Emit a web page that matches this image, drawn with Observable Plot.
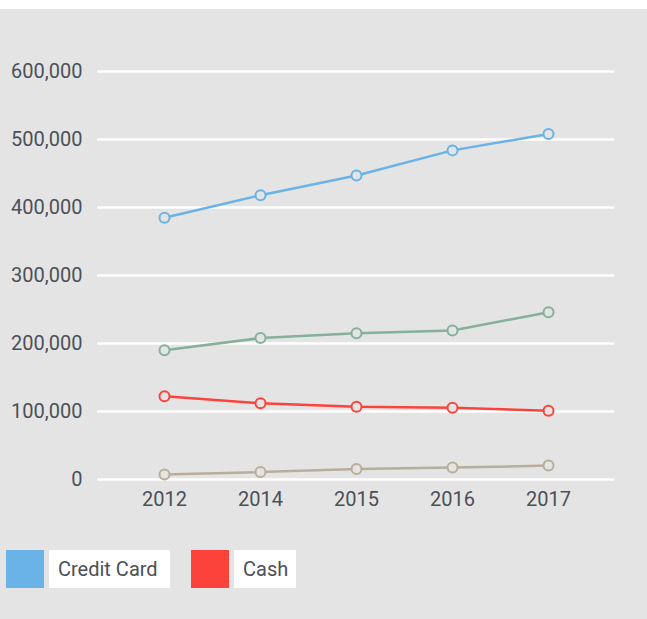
<!DOCTYPE html>
<html>
<head>
<meta charset="utf-8">
<script src="https://cdn.jsdelivr.net/npm/d3@7"></script>
<script src="https://cdn.jsdelivr.net/npm/@observablehq/plot@0.6"></script>
<style>
  html, body { margin: 0; padding: 0; background: #ffffff; }
  #wrap { position: absolute; top: 9px; left: 0; width: 647px; height: 610px; background: #e4e4e4; font-family: Roboto, sans-serif; }
  #chart svg { display: block; background: transparent; }
  #legend { position: absolute; top: 541px; left: 6px; display: flex; align-items: center; font-size: 20px; color: #4b5057; }
  .sw { width: 38px; height: 38px; }
  .lb { height: 38px; line-height: 38px; background: #fff; padding-left: 9px; box-sizing: border-box; margin-left: 5px; }
</style>
</head>
<body>
<div id="wrap">
  <div id="chart"></div>
  <div id="legend"></div>
</div>
<script>
const years = ["2012", "2014", "2015", "2016", "2017"];
const creditCard = [385000, 418000, 447000, 484000, 508000];
const debitCard = [190000, 208000, 215000, 219000, 246000];
const cash = [122500, 112000, 107000, 105500, 101000];
const other = [7500, 11000, 15500, 17500, 20500];
const seriesNames = ["Credit Card", "Debit Card", "Cash", "Other"];
const seriesColors = ["#69b3e7", "#85b19a", "#fc433b", "#b8ae9a"];
const yTicks = [0, 100000, 200000, 300000, 400000, 500000, 600000];
const legendNames = ["Credit Card", "Cash"];
const legendColors = ["#69b3e7", "#fc433b"];
const legendWidths = [121, 62];

const seriesValues = [creditCard, debitCard, cash, other];
const data = [];
seriesNames.forEach((name, i) => {
  years.forEach((yr, j) => data.push({series: name, year: yr, value: seriesValues[i][j]}));
});

const chart = Plot.plot({
  width: 647,
  height: 520,
  marginTop: 62,
  marginBottom: 50,
  marginLeft: 97,
  marginRight: 33,
  style: {fontFamily: "Roboto, sans-serif", fontSize: "20px", color: "#4b5057", background: "transparent"},
  x: {type: "point", domain: years, padding: 0.675, label: null},
  y: {domain: [0, 600000], label: null},
  color: {domain: seriesNames, range: seriesColors},
  marks: [
    Plot.ruleY(yTicks, {stroke: "#ffffff", strokeWidth: 2.5}),
    Plot.axisY(yTicks, {tickSize: 0, tickPadding: 15, tickFormat: d3.format(","), fill: "#4b5057", fontSize: 20, label: null}),
    Plot.axisX({tickSize: 0, tickPadding: 12, fill: "#4b5057", fontSize: 20, label: null}),
    Plot.line(data, {x: "year", y: "value", z: "series", stroke: "series", strokeWidth: 2.5}),
    Plot.dot(data, {x: "year", y: "value", stroke: "series", fill: "#e4e4e4", r: 5, strokeWidth: 2})
  ]
});
document.getElementById("chart").appendChild(chart);

const legend = document.getElementById("legend");
legendNames.forEach((n, i) => {
  const sw = document.createElement("div");
  sw.className = "sw";
  sw.style.background = legendColors[i];
  if (i > 0) sw.style.marginLeft = "21px";
  const lb = document.createElement("div");
  lb.className = "lb";
  lb.style.width = legendWidths[i] + "px";
  lb.textContent = n;
  legend.appendChild(sw);
  legend.appendChild(lb);
});
</script>
</body>
</html>
